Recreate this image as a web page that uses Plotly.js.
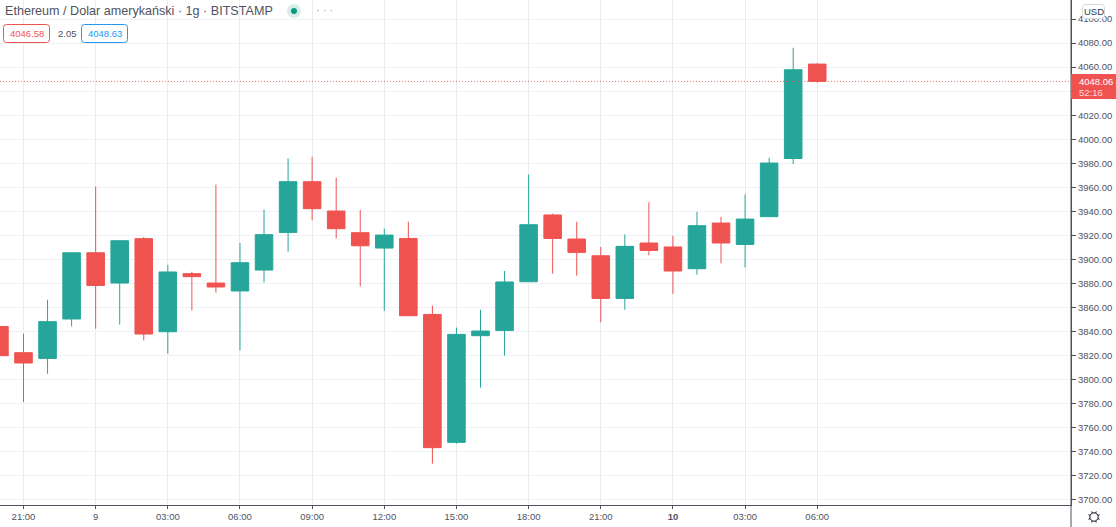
<!DOCTYPE html>
<html>
<head>
<meta charset="utf-8">
<script src="https://cdn.plot.ly/plotly-3.0.1.min.js"></script>
<style>html,body{margin:0;padding:0;background:#fff;overflow:hidden}#chart{width:1116px;height:527px}</style>
</head>
<body>
<div id="chart"></div>
<script>
const times = ["2021-05-08 20:00","2021-05-08 21:00","2021-05-08 22:00","2021-05-08 23:00",
"2021-05-09 00:00","2021-05-09 01:00","2021-05-09 02:00","2021-05-09 03:00","2021-05-09 04:00","2021-05-09 05:00",
"2021-05-09 06:00","2021-05-09 07:00","2021-05-09 08:00","2021-05-09 09:00","2021-05-09 10:00","2021-05-09 11:00",
"2021-05-09 12:00","2021-05-09 13:00","2021-05-09 14:00","2021-05-09 15:00","2021-05-09 16:00","2021-05-09 17:00",
"2021-05-09 18:00","2021-05-09 19:00","2021-05-09 20:00","2021-05-09 21:00","2021-05-09 22:00","2021-05-09 23:00",
"2021-05-10 00:00","2021-05-10 01:00","2021-05-10 02:00","2021-05-10 03:00","2021-05-10 04:00","2021-05-10 05:00","2021-05-10 06:00"];
const open = [3844.3,3822.5,3817.7,3850.5,3905.6,3880.4,3917.3,3839.9,3888.2,3880.4,3873.8,3891.2,3922.5,3964.7,3940.3,3922.3,3909.5,3917.5,3854.3,3747.9,3836.6,3841,3881.5,3937,3917,3903.1,3867.6,3913.7,3910.4,3892.3,3930.3,3912.5,3935.6,3984,4062.5];
const high = [3852.7,3838.3,3866.5,3905.6,3960.8,3915.6,3918.7,3895.6,3889.8,3962.2,3913.7,3941.4,3984,3985.5,3968,3941.1,3925.6,3931.4,3861.6,3843.3,3858.2,3890.4,3970.7,3938.1,3931.4,3910.4,3920.8,3947.5,3919.8,3939.7,3935.6,3954.1,3984.6,4076.1,4063.4];
const low = [3805,3781.5,3805,3844.3,3842.4,3845.8,3832.7,3821.6,3857.6,3872.4,3824.4,3880.9,3906.5,3932.5,3917.5,3877.6,3857.2,3853.2,3730.2,3746.8,3793.4,3820,3881.5,3888.2,3886.5,3847.7,3858.2,3903.4,3871.5,3887.3,3896.7,3893.4,3935.6,3979.4,4047];
const close = [3820,3813.9,3848.3,3905.6,3878.4,3915.6,3838,3889.6,3885.7,3877.1,3897.3,3920.6,3964.7,3942.2,3925.6,3911.4,3920.3,3853.2,3743.5,3837.7,3840.5,3881.3,3928.9,3917.5,3905.9,3867.6,3910.9,3907.5,3890.4,3928.1,3913.7,3933.6,3980.2,4057.8,4048.1];
const xTickVals = ["2021-05-08 21:00","2021-05-09 00:00","2021-05-09 03:00","2021-05-09 06:00","2021-05-09 09:00","2021-05-09 12:00","2021-05-09 15:00","2021-05-09 18:00","2021-05-09 21:00","2021-05-10 00:00","2021-05-10 03:00","2021-05-10 06:00"];
const xTickText = ["21:00","9","03:00","06:00","09:00","12:00","15:00","18:00","21:00","<b>10</b>","03:00","06:00"];
const yTickVals = [3700,3720,3740,3760,3780,3800,3820,3840,3860,3880,3900,3920,3940,3960,3980,4000,4020,4040,4060,4080,4100];
const yTickText = ["3700.00","3720.00","3740.00","3760.00","3780.00","3800.00","3820.00","3840.00","3860.00","3880.00","3900.00","3920.00","3940.00","3960.00","3980.00","4000.00","4020.00","","4060.00","4080.00","4100.00"];
const lastPrice = 4048.06;

const W = 1071, H = 505;
const fx = px => px / W, fy = py => 1 - py / H;
const RED = '#ef5350', GREEN = '#26a69a', INK = '#50535e';
const FONT = '"Liberation Sans", Arial, sans-serif';

function rrect(x0, y0, x1, y1, r, line, fill) {
  const X = fx, Y = fy;
  const d = `M${X(x0+r)},${Y(y0)} L${X(x1-r)},${Y(y0)} Q${X(x1)},${Y(y0)} ${X(x1)},${Y(y0+r)} L${X(x1)},${Y(y1-r)} Q${X(x1)},${Y(y1)} ${X(x1-r)},${Y(y1)} L${X(x0+r)},${Y(y1)} Q${X(x0)},${Y(y1)} ${X(x0)},${Y(y1-r)} L${X(x0)},${Y(y0+r)} Q${X(x0)},${Y(y0)} ${X(x0+r)},${Y(y0)} Z`;
  return {type:'path', xref:'paper', yref:'paper', path:d, line:{color:line, width:1}, fillcolor:fill, layer:'above'};
}
function circle(cx, cy, r, line, fill) {
  return {type:'circle', xref:'paper', yref:'paper', x0:fx(cx-r), x1:fx(cx+r), y0:fy(cy+r), y1:fy(cy-r), line:{color:line, width:line==='rgba(0,0,0,0)'?0:1}, fillcolor:fill, layer:'above'};
}
function label(text, px, py, size, color, anchor) {
  return {text, xref:'paper', yref:'paper', x:fx(px), y:fy(py), xanchor:anchor||'left', yanchor:'middle', showarrow:false, font:{family:FONT, size, color}, borderpad:0};
}

const gear = [1,2,3,4,5,6,7,8].map(k => {
  const a = k * Math.PI / 4 + Math.PI / 8, c = Math.cos(a), s = Math.sin(a);
  return `M${fx(1094+4.2*c)},${fy(517+4.2*s)} L${fx(1094+6*c)},${fy(517+6*s)}`;
}).join(' ');

const shapes = [
  {type:'line', xref:'paper', yref:'y', x0:0, x1:1, y0:lastPrice, y1:lastPrice, line:{color:'rgba(239,83,80,0.8)', width:1, dash:'1px,2px'}, layer:'above'},
  {type:'line', xref:'paper', yref:'paper', x0:1, x1:1, y0:fy(527), y1:1, line:{color:INK, width:1}, layer:'above'},
  {type:'rect', xref:'paper', yref:'paper', x0:1, x1:fx(1116), y0:fy(99), y1:fy(74), line:{width:0}, fillcolor:RED, layer:'above'},
  circle(294, 11, 7, 'rgba(0,0,0,0)', '#d8ece9'),
  circle(294, 11, 3, 'rgba(0,0,0,0)', '#089981'),
  rrect(3.5, 24.5, 49.5, 42.5, 3, RED, '#ffffff'),
  rrect(81.5, 24.5, 127.5, 42.5, 3, '#2196f3', '#ffffff'),
  rrect(1082.5, 4.5, 1104.5, 18.5, 3, '#d6d8e0', '#ffffff'),
  circle(1094, 517, 4.2, '#131722', 'rgba(0,0,0,0)'),
  {type:'path', xref:'paper', yref:'paper', path:gear, line:{color:'#131722', width:1}, layer:'above'}
];

const annotations = [
  label('Ethereum / Dolar amerykański · 1g · BITSTAMP', 4, 10.5, 12.6, INK),
  label('· · ·', 315, 9.5, 11, '#9598a1'),
  label('4046.58', 26.5, 33.5, 9.5, RED, 'center'),
  label('2.05', 57, 33, 9.5, INK),
  label('4048.63', 104.5, 33.5, 9.5, '#2196f3', 'center'),
  label('USD', 1093.5, 11.5, 9.5, '#2a3a55', 'center'),
  label('4048.06', 1078, 81.5, 9.5, '#ffffff'),
  label('52:16', 1078, 92.5, 9.5, '#ffd9d7')
];

const trace = {
  type:'candlestick', x:times, open, high, low, close,
  increasing:{line:{color:GREEN, width:1}, fillcolor:GREEN},
  decreasing:{line:{color:RED, width:1}, fillcolor:RED},
  whiskerwidth:0, hoverinfo:'skip', showlegend:false
};

const layout = {
  width:1116, height:527, autosize:false,
  margin:{l:0, r:45, t:0, b:22, pad:0},
  paper_bgcolor:'#ffffff', plot_bgcolor:'#ffffff',
  showlegend:false, hovermode:false, boxgap:0.27, boxgroupgap:0,
  font:{family:FONT, size:9.5, color:INK},
  xaxis:{
    type:'date', range:['2021-05-08 20:01:23','2021-05-10 16:33:00'],
    tickmode:'array', tickvals:xTickVals, ticktext:xTickText,
    rangeslider:{visible:false}, showgrid:true, gridcolor:'#e6eef2', gridwidth:1,
    ticks:'outside', ticklen:3, tickcolor:INK, tickwidth:1,
    showline:true, linecolor:INK, linewidth:1, zeroline:false,
    tickfont:{family:FONT, size:9.5, color:INK}
  },
  yaxis:{
    side:'right', range:[3695.8, 4115.8], tickmode:'array', tickvals:yTickVals, ticktext:yTickText,
    showgrid:true, gridcolor:'#eef2f8', gridwidth:1,
    ticks:'outside', ticklen:4, tickcolor:INK, tickwidth:1,
    showline:true, linecolor:INK, linewidth:1, zeroline:false,
    tickfont:{family:FONT, size:9.5, color:INK}
  },
  shapes, annotations
};
Plotly.newPlot('chart', [trace], layout, {displayModeBar:false, staticPlot:true});
</script>
</body>
</html>
